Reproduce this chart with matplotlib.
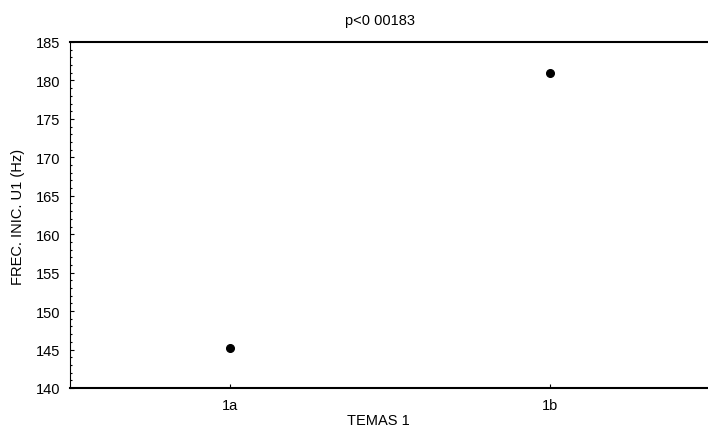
import matplotlib
matplotlib.use("Agg")
import matplotlib.pyplot as plt
from matplotlib.ticker import MultipleLocator

plt.rcParams['font.family'] = ['Liberation Sans', 'DejaVu Sans']

# medias por grupo
grupos = ['1a', '1b']
frec_u1 = [145.2, 181.0]
titulo = 'p<0 00183'

fig = plt.figure(figsize=(7.08, 4.35), dpi=100)
ax = fig.add_axes([70 / 708, 1 - 389 / 435, 640 / 708, 346 / 435])

x = list(range(len(grupos)))
ax.plot(x, frec_u1, 'o', color='black', ms=5.5, ls='none')

ax.set_xlim(-0.5, 1.5)
ax.set_ylim(140, 185)
ax.set_xticks(x)
ax.set_xticklabels(grupos)
ax.yaxis.set_major_locator(MultipleLocator(5))
ax.yaxis.set_minor_locator(MultipleLocator(1))
ax.tick_params(axis='both', which='major', direction='in', length=3, width=0.8,
               labelsize=10.5, pad=7)
ax.tick_params(axis='y', which='minor', direction='in', length=1.5, width=0.8)

ax.spines['right'].set_visible(False)
ax.spines['top'].set_linewidth(1.5)
ax.spines['bottom'].set_linewidth(1.5)
ax.spines['left'].set_linewidth(0.8)

fig.text(18 / 708, 1 - 217 / 435, 'FREC. INIC. U1 (Hz)', rotation=90,
         ha='center', va='center', fontsize=10.5)
fig.text(378 / 708, 1 - 421 / 435, 'TEMAS 1', ha='center', va='center', fontsize=10.5)
fig.text(380 / 708, 1 - 21 / 435, titulo, ha='center', va='center', fontsize=10.5)

fig.savefig('out.png', dpi=100)
